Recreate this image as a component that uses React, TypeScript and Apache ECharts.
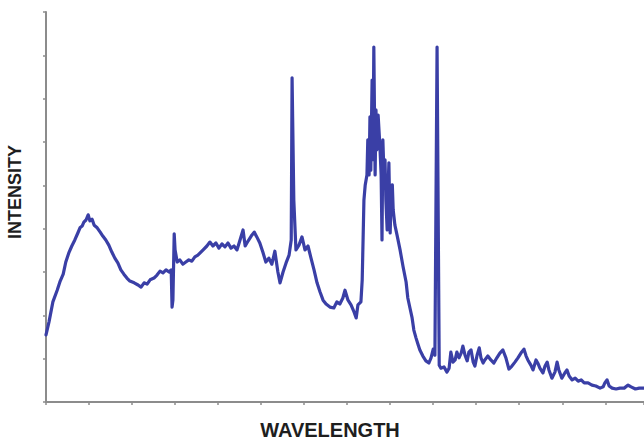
import React, { useEffect, useRef } from "react";
import * as echarts from "echarts";

// Wavelength (arbitrary units, axis 0..139) and intensity (arbitrary units, axis 0..90)
const wavelength: number[] = [
  0, 0.7, 1.6, 2.6, 3.3, 4.0, 4.6, 5.3, 6.0, 6.7, 7.4, 7.9, 8.4, 8.8, 9.3, 9.8, 10.2, 10.7, 11.2, 11.9,
  12.6, 13.2, 13.9, 14.6, 15.3, 16.0, 16.7, 17.4, 18.1, 18.8, 19.5, 20.5, 21.4, 22.1, 22.8, 23.5, 24.2, 25.1, 25.8, 26.5,
  27.2, 27.9, 28.6, 29.1, 29.3, 29.5, 29.8, 30.0, 30.5, 31.1, 31.8, 32.5, 33.2, 33.9, 34.6, 35.3, 36.0, 36.7, 37.4, 38.1,
  38.8, 39.5, 40.2, 40.9, 41.6, 42.3, 43.0, 43.7, 44.4, 45.1, 45.8, 46.3, 47.0, 47.7, 48.4, 49.0, 49.7, 50.4, 51.1, 51.8,
  52.5, 53.2, 53.9, 54.4, 55.1, 55.8, 56.5, 57.0, 57.2, 57.6, 58.1, 58.8, 59.5, 60.2, 60.9, 61.6, 62.3, 63.0, 63.7, 64.4,
  65.1, 66.0, 66.9, 67.6, 68.3, 69.0, 69.5, 70.2, 70.9, 71.6, 72.1, 72.5, 73.2,
  73.5, 73.7, 73.9, 74.2, 74.6, 74.8, 75.1, 75.3, 75.5, 75.8, 76.0, 76.2, 76.5, 76.7, 76.9, 77.2,
  77.6, 77.9, 78.1, 78.3, 78.6, 78.8, 79.0, 79.3, 79.5, 79.7, 80.0, 80.2, 80.5, 80.7, 81.1, 81.6,
  82.3, 83.0, 83.7, 84.1, 84.6, 85.1, 85.5, 86.0, 86.5, 86.9, 87.6, 88.3, 89.0, 89.5, 90.0, 90.4, 90.9, 91.4,
  91.8, 92.5, 93.2, 93.7, 94.1, 94.6, 95.1, 95.5, 96.0, 96.5, 96.9, 97.4, 97.9, 98.3, 98.8, 99.3, 99.7, 100.2,
  100.7, 101.1, 101.6, 102.0, 102.7, 103.4, 104.1, 104.8, 105.5, 106.2, 106.9, 107.6, 108.3, 109.0, 109.7, 110.4,
  111.1, 111.6, 112.0, 112.7, 113.2, 113.9, 114.4, 114.8, 115.5, 116.0, 116.5, 116.9, 117.6, 118.3, 118.8, 119.2,
  119.9, 120.6, 121.1, 121.6, 122.3, 123.0, 123.7, 124.4, 125.1, 126.0, 126.9, 127.8, 128.8, 129.5, 129.9, 130.4,
  130.9, 131.6, 132.5, 133.4, 134.4, 135.3, 136.0, 137.0, 137.9, 139.0,
];

const intensity: number[] = [
  15.5, 18.5, 23.1, 25.8, 27.9, 29.5, 32.3, 34.4, 36.0, 37.4, 39.0, 40.2, 40.6, 41.5, 42.0, 43.2, 41.8, 42.2, 40.8, 40.2,
  39.2, 38.3, 37.4, 36.2, 34.6, 33.2, 32.1, 30.5, 29.5, 28.6, 27.9, 27.5, 27.0, 26.5, 27.5, 27.2, 28.2, 28.6, 29.3, 30.2,
  29.8, 30.5, 30.0, 30.5, 21.9, 23.5, 38.8, 35.1, 32.3, 32.8, 31.8, 32.3, 32.8, 32.5, 33.5, 33.9, 34.6, 35.3, 36.0, 36.9,
  36.0, 36.7, 35.5, 36.5, 35.8, 36.7, 35.5, 36.0, 35.1, 37.4, 39.7, 36.0, 37.2, 38.3, 39.2, 38.1, 36.7, 34.6, 32.3, 33.2,
  31.8, 34.8, 30.0, 27.5, 30.0, 32.1, 33.9, 37.4, 74.8, 46.6, 35.1, 36.2, 38.1, 35.1, 36.0, 33.2, 30.5, 27.5, 25.4, 23.5,
  22.6, 21.9, 21.7, 23.1, 22.6, 24.0, 25.8, 23.5, 22.4, 20.8, 19.4, 22.4, 23.1,
  28.2, 37.4, 46.6, 50.1, 52.4, 60.5, 52.4, 65.8, 53.5, 74.3, 55.9, 81.9, 52.4, 67.4, 58.2, 66.2,
  59.3, 52.4, 37.4, 60.5, 51.2, 55.9, 46.6, 39.7, 48.9, 55.2, 39.0, 46.6, 50.1, 44.3, 40.8, 38.5,
  35.1, 31.2, 27.7, 24.0, 21.7, 19.4, 16.6, 14.8, 13.2, 12.0, 10.6, 9.5, 9.0, 10.2, 12.2, 10.8, 81.9, 8.5,
  7.8, 8.1, 6.9, 7.8, 11.5, 9.2, 9.7, 11.5, 10.2, 11.3, 12.9, 10.8, 9.5, 11.5, 12.0, 9.2, 8.3, 10.8,
  12.5, 10.2, 9.0, 9.7, 10.6, 9.7, 9.0, 10.2, 11.3, 12.0, 10.2, 7.6, 8.3, 9.2, 10.2, 11.3,
  12.2, 10.6, 9.7, 8.5, 7.4, 9.7, 8.8, 7.8, 6.7, 8.3, 9.2, 7.4, 5.5, 6.9, 9.2, 7.4,
  5.5, 6.7, 7.4, 6.0, 5.1, 5.5, 4.8, 5.1, 4.4, 4.4, 3.9, 3.7, 3.2, 3.5, 4.4, 5.1,
  3.7, 3.2, 3.0, 3.2, 3.2, 3.9, 3.5, 3.0, 3.2, 3.2,
];

const xAxisTitle = "WAVELENGTH";
const yAxisTitle = "INTENSITY";

export default function App() {
  const ref = useRef<HTMLDivElement>(null);

  useEffect(() => {
    if (!ref.current) return;
    const chart = echarts.init(ref.current, null, { renderer: "svg" });
    const n = Math.min(wavelength.length, intensity.length);
    const data: [number, number][] = [];
    for (let i = 0; i < n; i++) data.push([wavelength[i], intensity[i]]);

    const axisGray = "#8c8c8c";
    chart.setOption({
      animation: false,
      backgroundColor: "#ffffff",
      grid: { left: 46, top: 12, width: 598, height: 390 },
      xAxis: {
        type: "value",
        min: 0,
        max: 139,
        interval: 10,
        axisLine: { show: true, lineStyle: { color: axisGray, width: 2 } },
        axisTick: { show: true, length: 3, lineStyle: { color: axisGray, width: 1.5 } },
        axisLabel: { show: false },
        splitLine: { show: false },
      },
      yAxis: {
        type: "value",
        min: 0,
        max: 90,
        interval: 10,
        axisLine: { show: true, lineStyle: { color: axisGray, width: 2 } },
        axisTick: { show: true, length: 3, lineStyle: { color: axisGray, width: 1.5 } },
        axisLabel: { show: false },
        splitLine: { show: false },
      },
      series: [
        {
          type: "line",
          data,
          showSymbol: false,
          symbol: "none",
          lineStyle: { color: "#3a3fa6", width: 3.2, join: "round", cap: "round" },
          clip: false,
        },
      ],
      graphic: [
        {
          type: "text",
          x: 330,
          y: 430,
          style: {
            text: xAxisTitle,
            fill: "#1e1e1e",
            font: "bold 20px 'Liberation Sans', Arial, sans-serif",
            lineHeight: 16,
            align: "center",
            verticalAlign: "middle",
          },
        },
        {
          type: "text",
          x: 15,
          y: 192,
          rotation: Math.PI / 2,
          style: {
            text: yAxisTitle,
            fill: "#1e1e1e",
            font: "bold 18px 'Liberation Sans', Arial, sans-serif",
            align: "center",
            verticalAlign: "middle",
          },
        },
      ],
    });

    return () => chart.dispose();
  }, []);

  return <div ref={ref} style={{ width: 644, height: 440, position: "absolute", left: 0, top: 0 }} />;
}
